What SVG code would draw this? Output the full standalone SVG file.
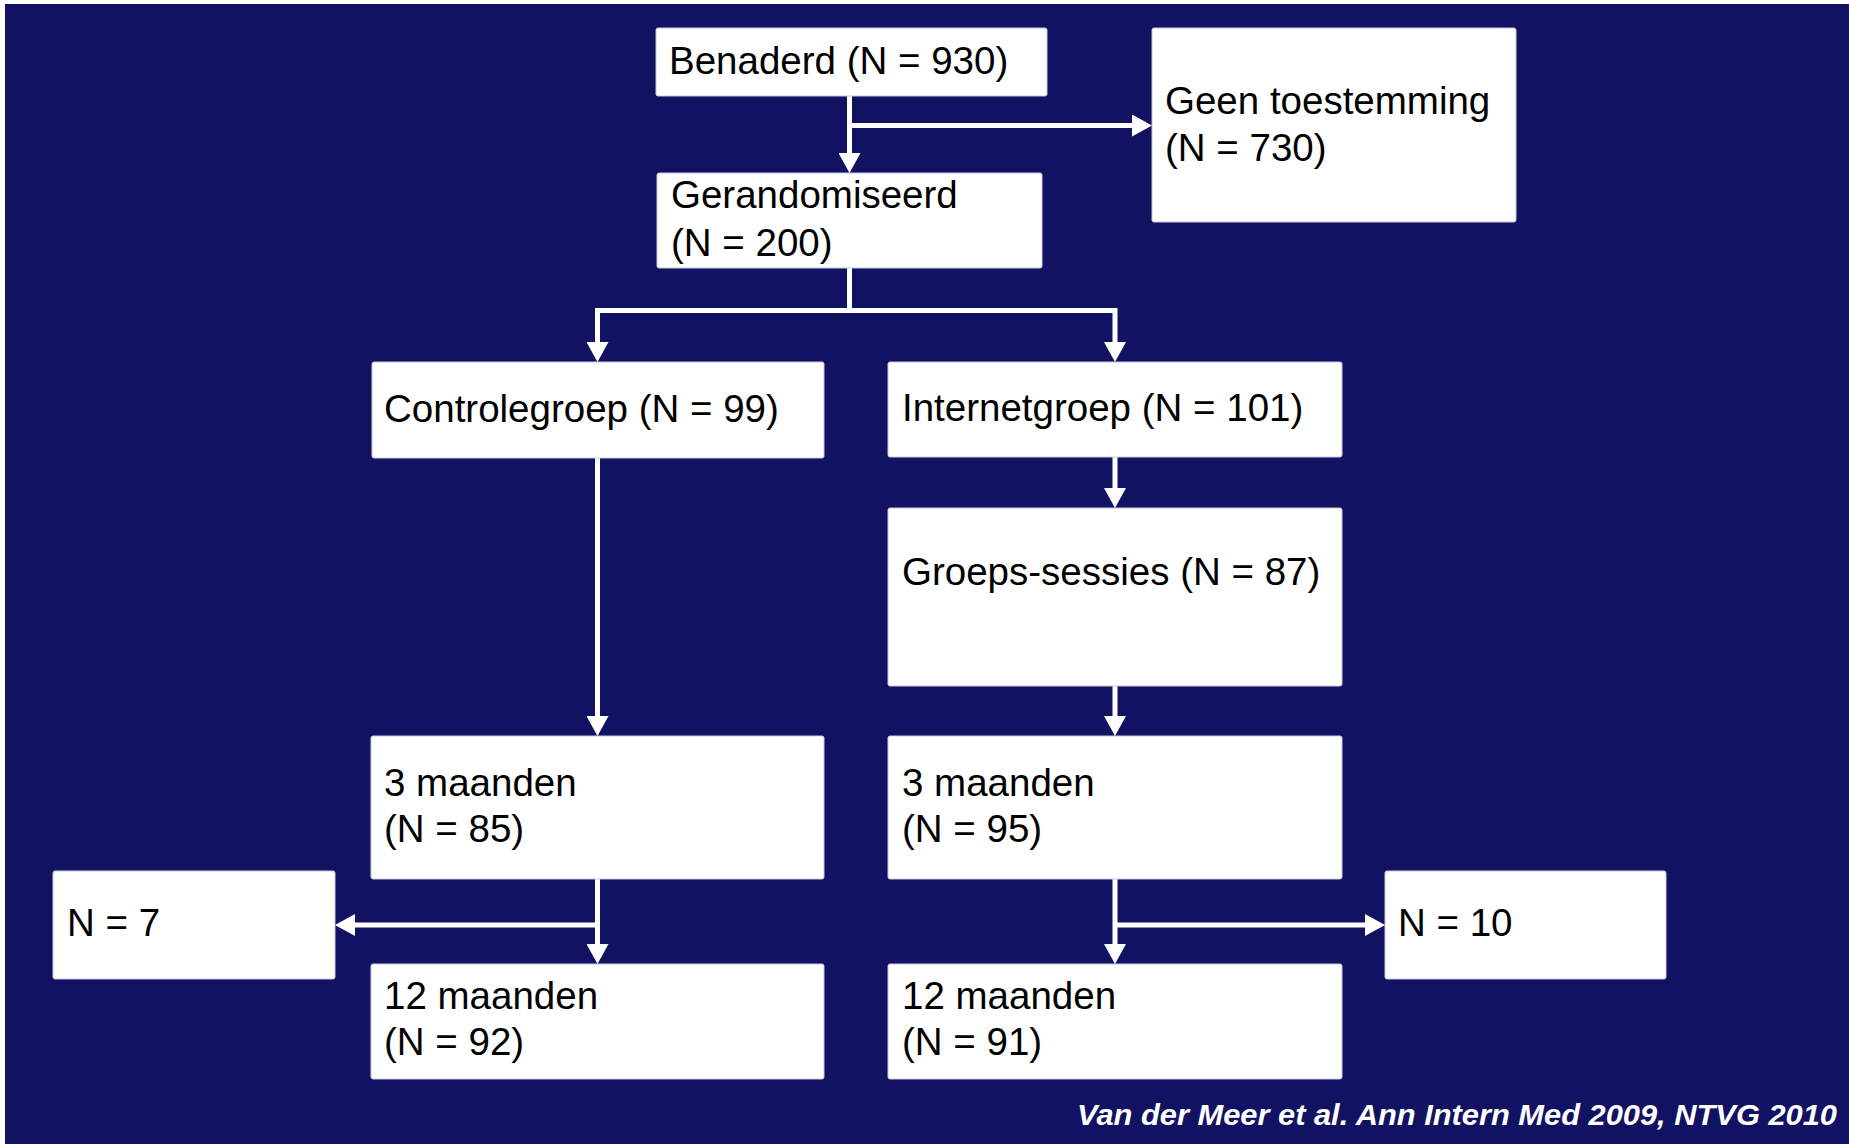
<svg xmlns="http://www.w3.org/2000/svg" width="1849" height="1144" viewBox="0 0 1849 1144">
<defs>
<style>
.box{fill:#ffffff;stroke:#c8c8dc;stroke-width:1}
.t{font-family:"Liberation Sans",Arial,sans-serif;font-size:38.5px;fill:#000000}
.c{fill:none;stroke:#ffffff;stroke-width:5}
.foot{font-family:"Liberation Sans",Arial,sans-serif;font-size:29.5px;font-weight:bold;font-style:italic;fill:#ffffff}
</style>
<marker id="ah" markerUnits="userSpaceOnUse" markerWidth="20" markerHeight="22" refX="10" refY="11" orient="auto">
<path d="M0,0 L20,11 L0,22 Z" fill="#ffffff"/>
</marker>
</defs>
<rect x="0" y="0" width="1849" height="1144" fill="#ffffff"/>
<rect x="5" y="4" width="1844" height="1140" fill="#121262"/>

<g id="connectors">
<path class="c" d="M849.5,96 V163" marker-end="url(#ah)"/>
<path class="c" d="M849.5,125.5 H1142" marker-end="url(#ah)"/>
<path class="c" d="M849.5,268 V310.5"/>
<path class="c" d="M597.5,310.5 H1115"/>
<path class="c" d="M597.5,308 V352" marker-end="url(#ah)"/>
<path class="c" d="M1115,308 V352" marker-end="url(#ah)"/>
<path class="c" d="M597.5,458 V726" marker-end="url(#ah)"/>
<path class="c" d="M1115,457 V498" marker-end="url(#ah)"/>
<path class="c" d="M1115,686 V726" marker-end="url(#ah)"/>
<path class="c" d="M597.5,879 V954" marker-end="url(#ah)"/>
<path class="c" d="M597.5,925 H345" marker-end="url(#ah)"/>
<path class="c" d="M1115,879 V954" marker-end="url(#ah)"/>
<path class="c" d="M1115,925 H1375" marker-end="url(#ah)"/>
</g>

<g id="benaderd">
<rect class="box" x="656" y="28" width="391" height="68" rx="2"/>
<text class="t" x="669" y="74">Benaderd (N = 930)</text>
</g>
<g id="geen-toestemming">
<rect class="box" x="1152" y="28" width="364" height="194" rx="2"/>
<text class="t" x="1165" y="114">Geen toestemming</text>
<text class="t" x="1165" y="161">(N = 730)</text>
</g>
<g id="gerandomiseerd">
<rect class="box" x="657" y="173" width="385" height="95" rx="2"/>
<text class="t" x="671" y="208">Gerandomiseerd</text>
<text class="t" x="671" y="256">(N = 200)</text>
</g>
<g id="controlegroep">
<rect class="box" x="372" y="362" width="452" height="96" rx="2"/>
<text class="t" x="384" y="422">Controlegroep (N = 99)</text>
</g>
<g id="internetgroep">
<rect class="box" x="888" y="362" width="454" height="95" rx="2"/>
<text class="t" x="902" y="421">Internetgroep (N = 101)</text>
</g>
<g id="groeps-sessies">
<rect class="box" x="888" y="508" width="454" height="178" rx="2"/>
<text class="t" x="902" y="585">Groeps-sessies (N = 87)</text>
</g>
<g id="controle-3m">
<rect class="box" x="371" y="736" width="453" height="143" rx="2"/>
<text class="t" x="384" y="796">3 maanden</text>
<text class="t" x="384" y="842">(N = 85)</text>
</g>
<g id="internet-3m">
<rect class="box" x="888" y="736" width="454" height="143" rx="2"/>
<text class="t" x="902" y="796">3 maanden</text>
<text class="t" x="902" y="842">(N = 95)</text>
</g>
<g id="uitval-controle">
<rect class="box" x="53" y="871" width="282" height="108" rx="2"/>
<text class="t" x="67" y="936">N = 7</text>
</g>
<g id="uitval-internet">
<rect class="box" x="1385" y="871" width="281" height="108" rx="2"/>
<text class="t" x="1398" y="936">N = 10</text>
</g>
<g id="controle-12m">
<rect class="box" x="371" y="964" width="453" height="115" rx="2"/>
<text class="t" x="384" y="1009">12 maanden</text>
<text class="t" x="384" y="1055">(N = 92)</text>
</g>
<g id="internet-12m">
<rect class="box" x="888" y="964" width="454" height="115" rx="2"/>
<text class="t" x="902" y="1009">12 maanden</text>
<text class="t" x="902" y="1055">(N = 91)</text>
</g>

<text class="foot" x="1837" y="1125" text-anchor="end" textLength="760" lengthAdjust="spacingAndGlyphs">Van der Meer et al. Ann Intern Med 2009, NTVG 2010</text>
</svg>
